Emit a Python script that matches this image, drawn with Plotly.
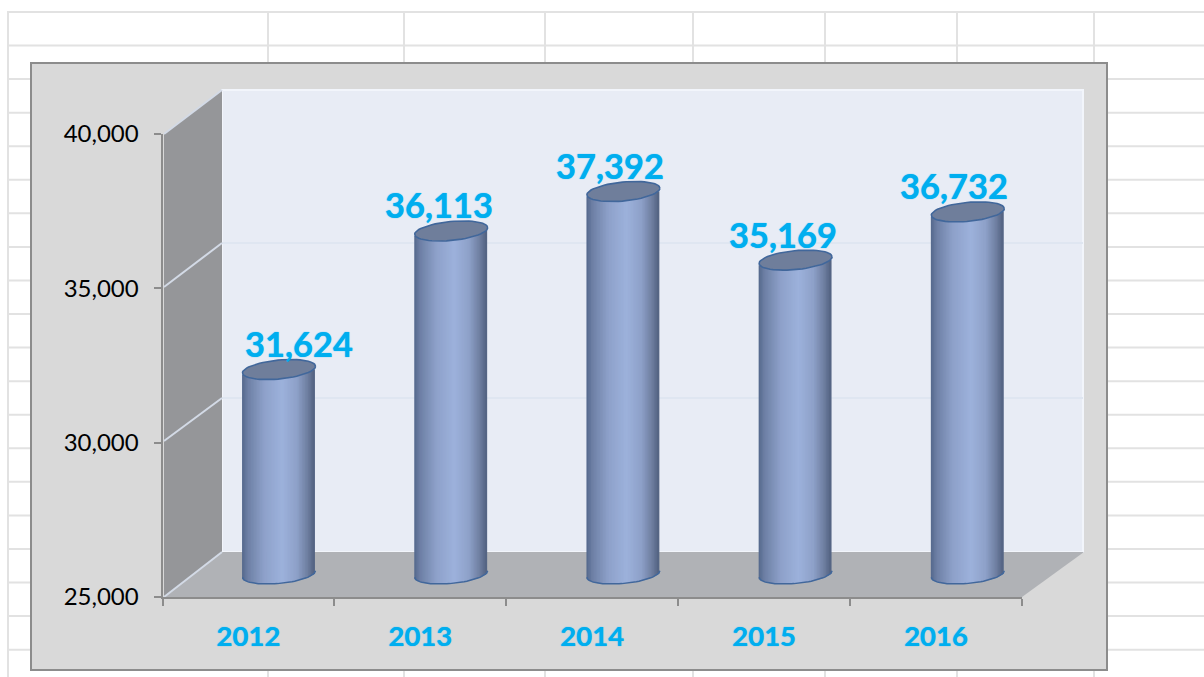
import numpy as np
import plotly.graph_objects as go

years = [2012, 2013, 2014, 2015, 2016]
values = [31624, 36113, 37392, 35169, 36732]
year_labels = ["2012", "2013", "2014", "2015", "2016"]
y_ticks = [25000, 30000, 35000, 40000]
label_dx = [20, -12, -13, -13, -14]

W, H = 1204, 677
CYAN = "#00aeef"
FONT = "Lato, Carlito, Calibri, sans-serif"
px_x = lambda p: p / W
px_y = lambda p: 1 - p / H

# axis geometry (front plane)
AX_L, AX_R, AX_B, AX_T = 162.5, 1022, 597, 134
k = 15000 / (AX_B - AX_T)          # value per pixel
step = 172.2                       # pixels per bar spacing
# bars stand half way into the depth of the box
BAR_X0, BAR_Y0 = 279, 574
x2_range = [2012 + (0 - BAR_X0) / step, 2012 + (W - BAR_X0) / step]
y2_range = [25000 + (BAR_Y0 - H) * k, 25000 + BAR_Y0 * k]

A, B, SLOPE = 36.5, 9.5, 0.09      # cylinder ellipse, pixels
SLICE = 1.5

stops = [(0, (84, 104, 140)), (.08, (110, 128, 165)), (.3, (142, 161, 202)),
         (.55, (157, 178, 220)), (.75, (142, 161, 201)), (.9, (110, 126, 160)),
         (1, (78, 94, 124))]
def shade(t):
    xs = [s[0] for s in stops]
    return "rgb(%d,%d,%d)" % tuple(np.interp(t, xs, [s[1][i] for s in stops]) for i in range(3))

offs = np.arange(-A + SLICE / 2, A - SLICE / 2 + 1e-6, SLICE)
bx, by, bb, bc = [], [], [], []
for yr, v in zip(years, values):
    for d in offs:
        u = d / A
        bx.append(yr + d / step)
        by.append(v - 25000)
        bb.append(25000 + (SLOPE * d - B * np.sqrt(1 - u * u)) * k)
        bc.append(shade((u + 1) / 2))

fig = go.Figure()
# invisible carrier for the category axis
fig.add_trace(go.Scatter(x=year_labels, y=values, mode="markers", marker=dict(opacity=0),
                         hoverinfo="skip", showlegend=False, xaxis="x", yaxis="y"))
# neighbouring slices overlap so no seams show between them
fig.add_trace(go.Bar(x=bx, y=by, base=bb, width=1.6 * SLICE / step, marker=dict(color=bc, line=dict(width=0)),
                     hoverinfo="skip", showlegend=False, xaxis="x2", yaxis="y2"))

# caps and base rims
t = np.linspace(0, 2 * np.pi, 60)
cx, cy = [], []
for yr, v in zip(years, values):
    cx += list(yr + A * np.cos(t) / step) + [None]
    cy += list(v + (SLOPE * A * np.cos(t) + B * np.sin(t)) * k) + [None]
fig.add_trace(go.Scatter(x=cx, y=cy, mode="lines", fill="toself", fillcolor="#6f7e9b",
                         line=dict(color="#41679b", width=1.6), hoverinfo="skip", showlegend=False,
                         xaxis="x2", yaxis="y2"))
t2 = np.linspace(np.pi, 2 * np.pi, 40)
rx, ry = [], []
for yr in years:
    rx += list(yr + A * np.cos(t2) / step) + [None]
    ry += list(25000 + (SLOPE * A * np.cos(t2) + B * np.sin(t2)) * k) + [None]
fig.add_trace(go.Scatter(x=rx, y=ry, mode="lines", line=dict(color="#41679b", width=1.5),
                         hoverinfo="skip", showlegend=False, xaxis="x2", yaxis="y2"))

# worksheet grid and chart frame
shapes = []
def line(x0, y0, x1, y1, color, width, layer="below"):
    shapes.append(dict(type="line", xref="paper", yref="paper", x0=px_x(x0), y0=px_y(y0),
                       x1=px_x(x1), y1=px_y(y1), line=dict(color=color, width=width), layer=layer))
def poly(points, fill, lc=None, lw=0):
    path = "M " + " L ".join("%.5f,%.5f" % (px_x(a), px_y(b)) for a, b in points) + " Z"
    shapes.append(dict(type="path", xref="paper", yref="paper", path=path, fillcolor=fill,
                       line=dict(color=lc or fill, width=lw), layer="below"))

GRID = "#e2e2e2"
for i in range(20):
    line(8, 12 + i * 33.56, W, 12 + i * 33.56, GRID, 2)
for gx in [8, 268, 404, 545, 693, 825, 957, 1094]:
    line(gx, 11, gx, H, GRID, 2)
poly([(31, 63), (1107, 63), (1107, 670), (31, 670)], "#d9d9d9", "#8c8c8c", 2)
poly([(222, 90), (1083, 90), (1083, 552), (222, 552)], "#e8ecf5", "#f2f5fb", 2)
poly([(164, 134), (222, 90), (222, 552), (164, 597)], "#959699")
poly([(164, 597), (222, 552), (1084, 552), (1022, 597)], "#b0b2b6")
line(222, 243, 1083, 243, "#dfe6f1", 2)
line(222, 398, 1083, 398, "#dfe6f1", 2)
line(164, 287, 222, 243, "#d3dae6", 2)
line(164, 441, 222, 398, "#d3dae6", 2)
line(164, 134, 222, 90, "#d3dae6", 2)
line(164, 597, 222, 552, "#d3dae6", 2)

BOLDEN = "0 0 1px #00aeef"
annotations = [dict(x=yr, y=v, xref="x2", yref="y2", text=f"{v:,}", showarrow=False,
                    xshift=dx, yshift=26,
                    font=dict(family=FONT, size=34.5, color=CYAN, weight="bold", shadow=BOLDEN))
               for yr, v, dx in zip(years, values, label_dx)]

fig.update_layout(
    width=W, height=H, margin=dict(l=0, r=0, t=0, b=0, pad=0, autoexpand=False), autosize=False,
    paper_bgcolor="white", plot_bgcolor="rgba(0,0,0,0)", showlegend=False,
    barmode="overlay", shapes=shapes, annotations=annotations,
    xaxis=dict(domain=[px_x(AX_L), px_x(AX_R)], type="category", categoryorder="array",
               categoryarray=year_labels, range=[-0.5, 4.5], tickson="boundaries", ticks="outside",
               ticklen=7, tickwidth=2, tickcolor="#8c8c8c", showline=True, linecolor="#8c8c8c", linewidth=2,
               showgrid=False, zeroline=False, ticklabelstandoff=14, automargin=False,
               tickfont=dict(family=FONT, size=27.5, color=CYAN, weight="bold", shadow=BOLDEN), anchor="y"),
    yaxis=dict(domain=[px_y(AX_B), px_y(AX_T)], range=[25000, 40000], tickvals=y_ticks, tickformat=",",
               ticks="outside", ticklen=7, tickwidth=2, tickcolor="#8c8c8c", showline=True,
               linecolor="#8c8c8c", linewidth=2, showgrid=False, zeroline=False, ticklabelstandoff=10,
               automargin=False, tickfont=dict(family=FONT, size=24, color="black"), anchor="x"),
    xaxis2=dict(domain=[0, 1], range=x2_range, visible=False, anchor="y2"),
    yaxis2=dict(domain=[0, 1], range=y2_range, visible=False, anchor="x2"),
)
fig.write_html("out.html", config=dict(displayModeBar=False),
               post_script="document.body.style.margin='0';document.body.style.overflow='hidden';")
